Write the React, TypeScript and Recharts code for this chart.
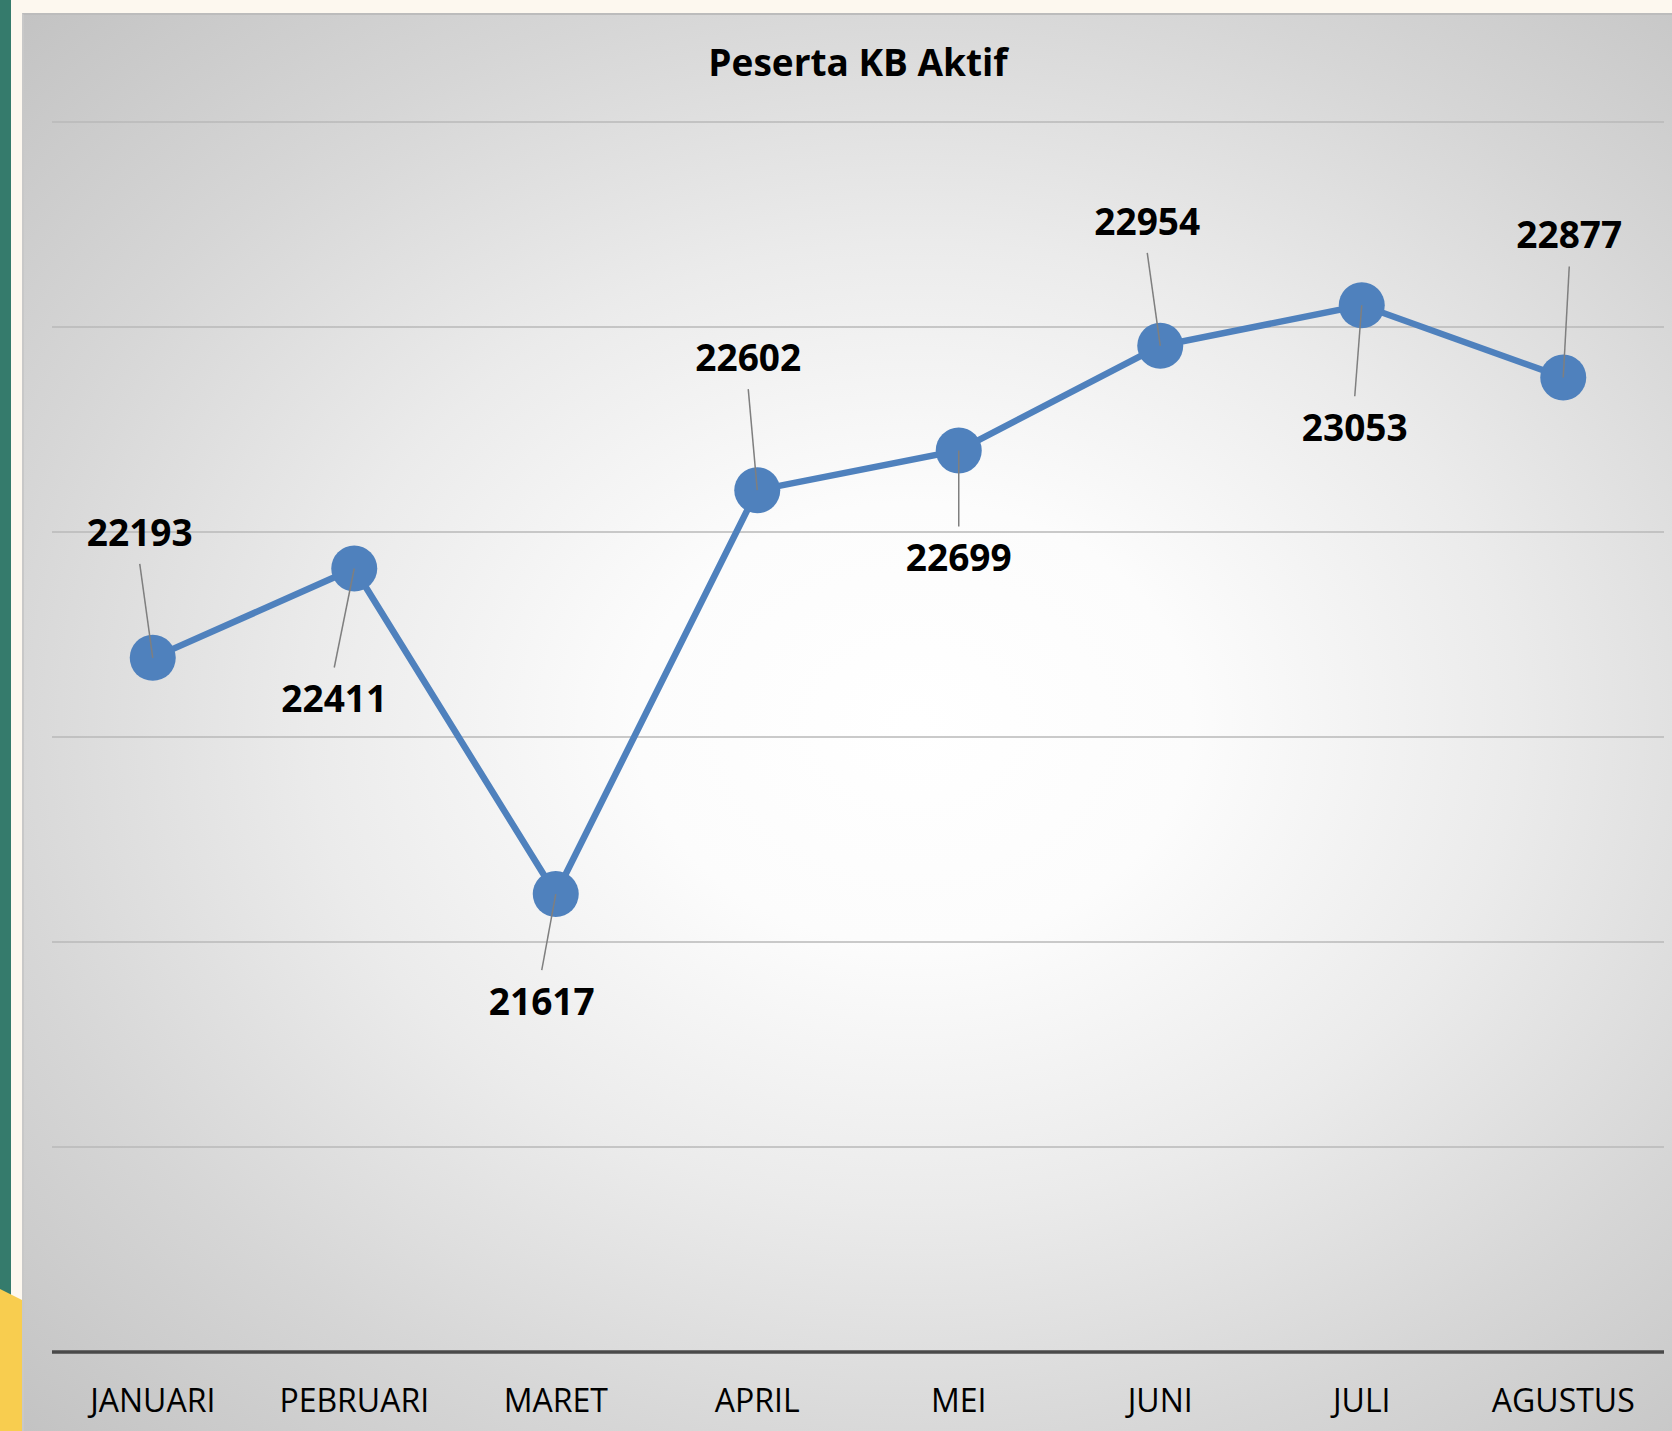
import { CartesianGrid, Line, LineChart, XAxis, YAxis } from "recharts";

const months = ["JANUARI", "PEBRUARI", "MARET", "APRIL", "MEI", "JUNI", "JULI", "AGUSTUS"];
const peserta = [22193, 22411, 21617, 22602, 22699, 22954, 23053, 22877];
const yTicks = [20500, 21000, 21500, 22000, 22500, 23000, 23500];

// manual label placement (dx, dy from the marker), like the dragged labels in the original
const LABEL_OFFSETS: [number, number][] = [
  [-13, -125],
  [-20, 131],
  [-14, 108],
  [-9, -132],
  [0, 108],
  [-13, -124],
  [-7, 123],
  [6, -142],
];

const BLUE = "#4f81bd";
const FONT = "'Open Sans', 'DejaVu Sans', sans-serif";

const data = months.map((m, i) => ({ month: m, value: peserta[i] }));

function PointWithLabel(props: any) {
  const { cx, cy, index, value } = props;
  if (cx == null || cy == null) return null;
  const [dx, dy] = LABEL_OFFSETS[index] ?? [0, -40];
  const tx = cx + dx;
  const ty = cy + dy;
  const ly = dy < 0 ? ty + 31 : ty - 32;
  return (
    <g key={`pt-${index}`}>
      <circle cx={cx} cy={cy} r={23} fill={BLUE} />
      <line x1={tx} y1={ly} x2={cx} y2={cy} stroke="#7f7f7f" strokeWidth={1.5} />
      <text
        x={tx}
        y={ty + 13}
        textAnchor="middle"
        fontFamily={FONT}
        fontWeight={700}
        fontSize={37}
        fill="#000"
      >
        {value}
      </text>
    </g>
  );
}

export default function App() {
  return (
    <div style={{ position: "absolute", left: 0, top: 0, width: 1672, height: 1431, background: "#fdf8ef", overflow: "hidden" }}>
      <div style={{ position: "absolute", left: 0, top: 0, width: 11, height: 1431, background: "#357b6c" }} />
      <div
        style={{
          position: "absolute",
          left: 0,
          top: 1289,
          width: 22,
          height: 142,
          background: "#f8cd4f",
          clipPath: "polygon(0 0, 100% 11px, 100% 100%, 0 100%)",
        }}
      />
      <div
        style={{
          position: "absolute",
          left: 22,
          top: 13,
          width: 1650,
          height: 1418,
          boxSizing: "border-box",
          borderTop: "2px solid #bcbcbc",
          borderLeft: "2px solid #c8c8c8",
          background:
            "radial-gradient(ellipse farthest-corner at 54% 50%, #ffffff 0%, #fcfcfc 22%, #ebebeb 48%, #d6d6d6 74%, #c3c3c3 100%)",
        }}
      />
      <div
        style={{
          position: "absolute",
          left: 52,
          top: 43,
          width: 1612,
          textAlign: "center",
          fontFamily: FONT,
          fontWeight: 700,
          fontSize: 37,
          lineHeight: "37px",
          color: "#000",
        }}
      >
        Peserta KB Aktif
      </div>
      <div style={{ position: "absolute", left: 0, top: 0 }}>
        <LineChart width={1672} height={1431} data={data} margin={{ top: 122, right: 8, left: 52, bottom: 0 }}>
          <CartesianGrid vertical={false} stroke="#b9b9b9" strokeWidth={1.5} />
          <XAxis
            dataKey="month"
            scale="band"
            height={79}
            axisLine={{ stroke: "#4a4a4a", strokeWidth: 3.5 }}
            tickLine={false}
            tickSize={0}
            tickMargin={37}
            tick={{ fill: "#000", fontSize: 32, fontFamily: FONT }}
            interval={0}
          />
          <YAxis hide domain={[20500, 23500]} ticks={yTicks} type="number" />
          <Line
            type="linear"
            dataKey="value"
            stroke={BLUE}
            strokeWidth={6.5}
            dot={PointWithLabel}
            activeDot={false}
            isAnimationActive={false}
          />
        </LineChart>
      </div>
    </div>
  );
}
